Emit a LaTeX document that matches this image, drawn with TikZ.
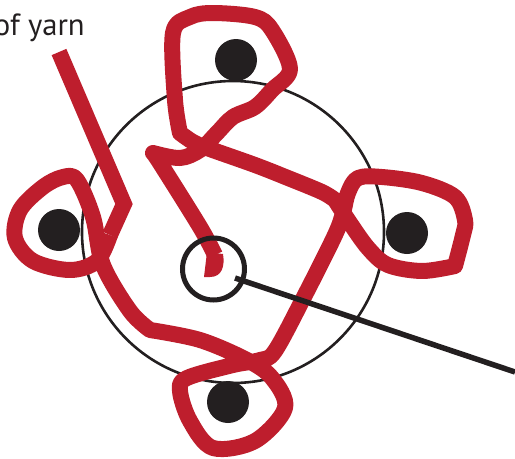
\documentclass[tikz,border=0pt]{standalone}
\usepackage{fontspec}
\setmainfont{PT Sans}
\definecolor{yarn}{HTML}{BE1E2D}
\definecolor{ink}{HTML}{231F20}
\newcommand{\pxu}{*0.75pt}
\tikzset{
  peg/.style={circle,fill=ink,draw=none,minimum size=42\pxu,inner sep=0pt},
  hoop/.style={circle,draw=ink,line width=2.6\pxu,minimum size=302\pxu,inner sep=0pt},
  eye/.style={circle,draw=ink,line width=5\pxu,minimum size=62\pxu,inner sep=0pt},
  yarnline/.style={draw=yarn,line width=16\pxu,line join=round},
  pointer/.style={draw=ink,line width=5.5\pxu},
}
\begin{document}
\begin{tikzpicture}[x=0.75pt,y=-0.75pt]
\useasboundingbox (0,0) rectangle (515,458);
\begin{scope}
\clip (0,0) rectangle (515,458);
\node[hoop] (wheel) at (233,232) {};
\node[peg] (top) at (236,60) {};
\node[peg] (left) at (59,230) {};
\node[peg] (right) at (407,233) {};
\node[peg] (bottom) at (228,402) {};
\draw[yarnline,line join=miter] (59,52) -- (124,204) -- (110,235);
\draw[yarnline] (110,235)
 -- plot[smooth,tension=0.55] coordinates {(110,235) (97,261) (70,270) (33,261) (15,238) (20,210) (43,187) (63,177) (77,180) (93,217) (103,265) (130,311) (150,330)}
 -- plot[smooth,tension=0.55] coordinates {(150,330) (200,340) (247,360) (272,378) (285,408) (255,441) (213,448) (190,421) (180,391) (187,378) (233,365) (260,360) (275,351) (305,295) (335,235) (343,213) (348,193) (358,178) (382,177) (422,183) (455,197) (465,220) (463,235) (455,266)}
 -- plot[smooth,tension=0.55] coordinates {(455,266) (422,271) (388,265) (368,248) (348,220) (335,200)}
 -- plot[smooth,tension=0.55] coordinates {(335,200) (322,192) (288,178) (255,165) (207,148) (193,142) (180,133)}
 -- plot[smooth,tension=0.55] coordinates {(180,133) (175,100) (173,33) (190,17) (213,13) (255,17) (272,30) (290,69) (272,90) (255,107) (233,117) (217,133) (200,150) (180,158) (153,153)}
 -- plot[smooth,tension=0.55] coordinates {(153,153) (160,163) (200,227) (215,255)};
\fill[yarn] (207,252) -- (223,254) .. controls (225,266) and (222,277) .. (210,277) -- (204,277) -- cycle;
\node[eye] (hub) at (213.5,269) {};
\coordinate (tail) at (515,372);
\coordinate (hubmark) at (235,278);
\draw[pointer] (hubmark) -- (tail);
\node[font=\fontsize{23}{26}\selectfont,text=ink,anchor=base east,inner sep=0pt] (label) at (85,35) {of yarn};
\end{scope}
\end{tikzpicture}
\end{document}
